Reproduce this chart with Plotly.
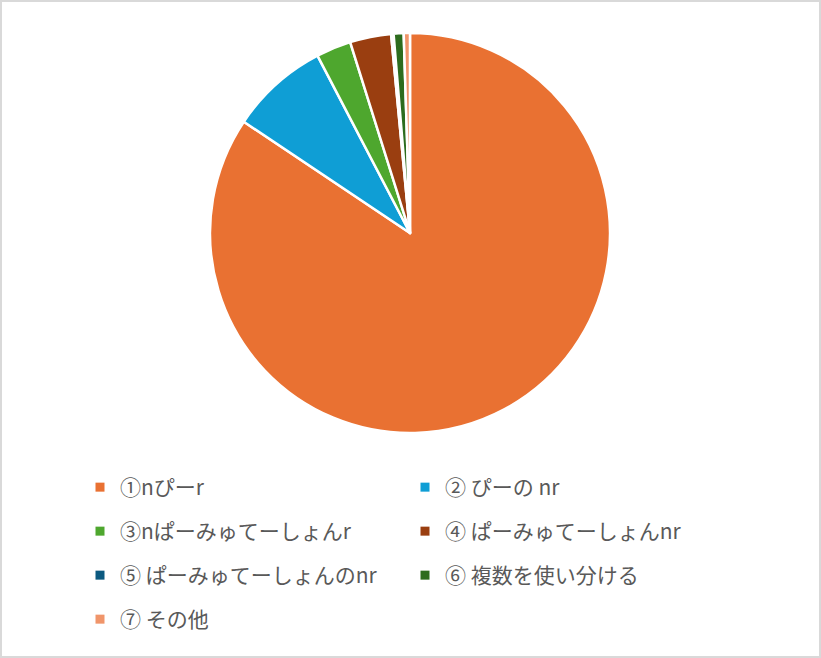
import plotly.graph_objects as go

categories = ["①nぴーr", "② ぴーの nr", "③nぱーみゅてーしょんr", "④ ぱーみゅてーしょんnr",
              "⑤ ぱーみゅてーしょんのnr", "⑥ 複数を使い分ける", "⑦ その他"]
values = [83.8, 7.9, 2.8, 3.3, 0.2, 0.8, 0.5]
colors = ["#E97132", "#0F9ED5", "#4EA72E", "#9A3E10", "#0C5A80", "#2D6C1E", "#F0956A"]

W, H = 821, 658
cx, cy, r = 410, 233, 200

fig = go.Figure()
fig.add_trace(go.Pie(
    labels=categories, values=values, sort=False, direction="clockwise", rotation=0,
    marker=dict(colors=colors, line=dict(color="white", width=2.5)),
    textinfo="none", hoverinfo="label+percent", showlegend=False,
    domain=dict(x=[(cx - r) / W, (cx + r) / W], y=[1 - (cy + r) / H, 1 - (cy - r) / H]),
))

# legend entries (two columns)
for i, (lab, col) in enumerate(zip(categories, colors)):
    fig.add_trace(go.Scatter(
        x=[None], y=[None], mode="markers", name=lab,
        marker=dict(symbol="square", size=9, color=col),
        legend="legend" if i % 2 == 0 else "legend2",
        legendgroup=f"g{i}", showlegend=True, hoverinfo="skip",
    ))

font = dict(family="Noto Sans CJK JP", size=21, color="#595959")
legend_common = dict(orientation="v", font=font, bgcolor="rgba(0,0,0,0)",
                     tracegroupgap=13.7, itemsizing="trace",
                     xanchor="left", yanchor="top", traceorder="grouped")
fig.update_layout(
    width=W, height=H, margin=dict(l=0, r=0, t=0, b=0),
    paper_bgcolor="white", plot_bgcolor="white",
    xaxis=dict(visible=False), yaxis=dict(visible=False),
    legend=dict(x=80 / W, y=1 - 467 / H, **legend_common),
    legend2=dict(x=405 / W, y=1 - 467 / H, **legend_common),
    shapes=[dict(type="rect", xref="paper", yref="paper",
                 x0=1 / W, x1=1 - 1 / W, y0=1 / H, y1=1 - 1 / H,
                 line=dict(color="#D9D9D9", width=2), layer="above")],
)

fig.write_html("out.html", config={"displayModeBar": False},
               post_script="document.body.style.margin='0';document.body.style.overflow='hidden';")
